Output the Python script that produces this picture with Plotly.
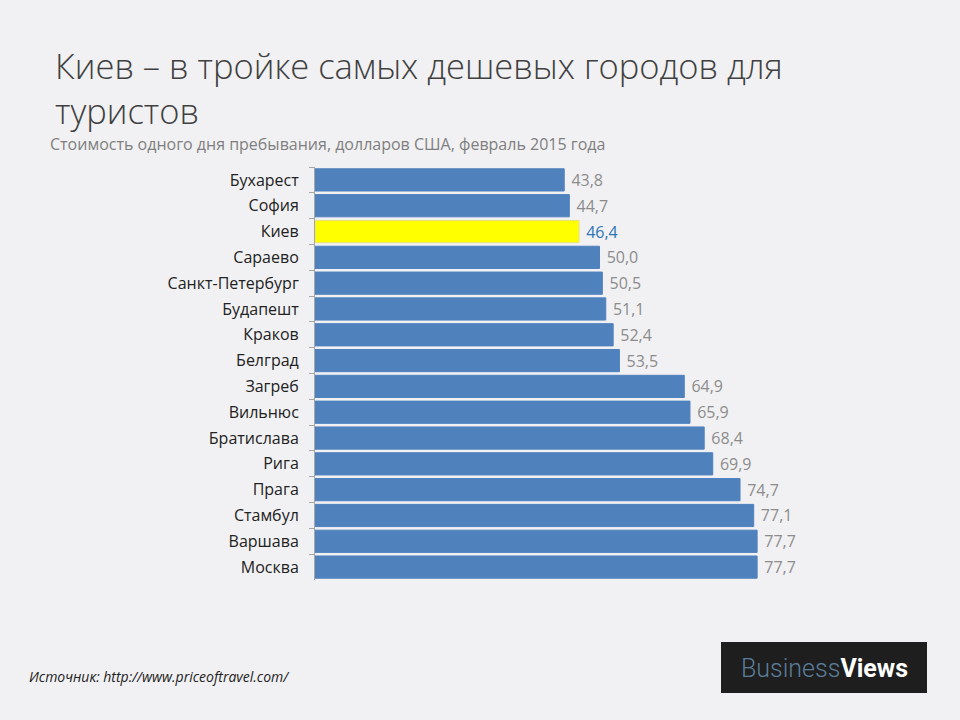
import plotly.graph_objects as go

cities = ["Бухарест", "София", "Киев", "Сараево", "Санкт-Петербург", "Будапешт",
          "Краков", "Белград", "Загреб", "Вильнюс", "Братислава", "Рига",
          "Прага", "Стамбул", "Варшава", "Москва"]
costs = [43.8, 44.7, 46.4, 50.0, 50.5, 51.1, 52.4, 53.5, 64.9, 65.9, 68.4, 69.9,
         74.7, 77.1, 77.7, 77.7]
highlight = "Киев"

W, H = 960, 720
L, R, T, B = 315, 60, 167, 140
PW, PH = W - L - R, H - T - B
PX_PER_UNIT = 5.69

def px(x):
    return (x - L) / PW

def py(y):
    return 1 - (y - T) / PH

bar_colors = ["#ffff00" if c == highlight else "#4f81bd" for c in cities]
line_colors = ["#e8e07a" if c == highlight else "#4f81bd" for c in cities]
text_colors = ["#2e75b6" if c == highlight else "#8c8c8c" for c in cities]

fig = go.Figure(go.Bar(
    x=costs, y=cities, orientation="h",
    marker=dict(color=bar_colors, line=dict(color=line_colors, width=1)),
    texttemplate="\u00a0%{x:.1f}", textposition="outside",
    textfont=dict(color=text_colors, size=16, family="Open Sans"),
    cliponaxis=False,
))

fig.update_layout(
    width=W, height=H,
    margin=dict(l=L, r=R, t=T, b=B),
    paper_bgcolor="#f1f1f3", plot_bgcolor="#f1f1f3",
    separators=", ",
    bargap=0.14,
    showlegend=False,
    font=dict(family="Open Sans", color="#222222"),
    xaxis=dict(range=[0, PW / PX_PER_UNIT], visible=False, showgrid=False, zeroline=False),
    yaxis=dict(autorange="reversed", showline=True, linecolor="#a6a6a6", linewidth=1,
               ticks="outside", tickson="boundaries", ticklen=5, tickcolor="#a6a6a6",
               ticklabelstandoff=12,
               tickfont=dict(size=16, color="#222222", family="Open Sans"),
               showgrid=False, zeroline=False),
)

annotations = [
    dict(text="Киев – в тройке самых дешевых городов для", x=px(53), y=py(66),
         font=dict(size=34.5, color="#404040", family="Open Sans", weight=300)),
    dict(text="туристов", x=px(53), y=py(110),
         font=dict(size=34.5, color="#404040", family="Open Sans", weight=300)),
    dict(text="Стоимость одного дня пребывания, долларов США, февраль 2015 года",
         x=px(48), y=py(144), font=dict(size=16, color="#7f7f7f", family="Open Sans")),
    dict(text="<i>Источник: http://www.priceoftravel.com/</i>", x=px(27), y=py(676),
         font=dict(size=14, color="#222222", family="Open Sans")),
    dict(text="<span style='color:#5b7d99;font-weight:300'>Business</span><b style='color:#ffffff'>Views</b>",
         x=px(824), y=py(668), xanchor="center",
         font=dict(size=25, family="Roboto")),
]
for a in annotations:
    a.setdefault("xanchor", "left")
    fig.add_annotation(xref="paper", yref="paper", yanchor="middle", showarrow=False, **a)

fig.add_shape(type="rect", xref="paper", yref="paper",
              x0=px(721), x1=px(927), y0=py(642), y1=py(693),
              fillcolor="#1e1e1e", line=dict(width=0), layer="below")

fig.write_html("out.html", config={"displayModeBar": False},
               post_script="document.body.style.margin='0';")
